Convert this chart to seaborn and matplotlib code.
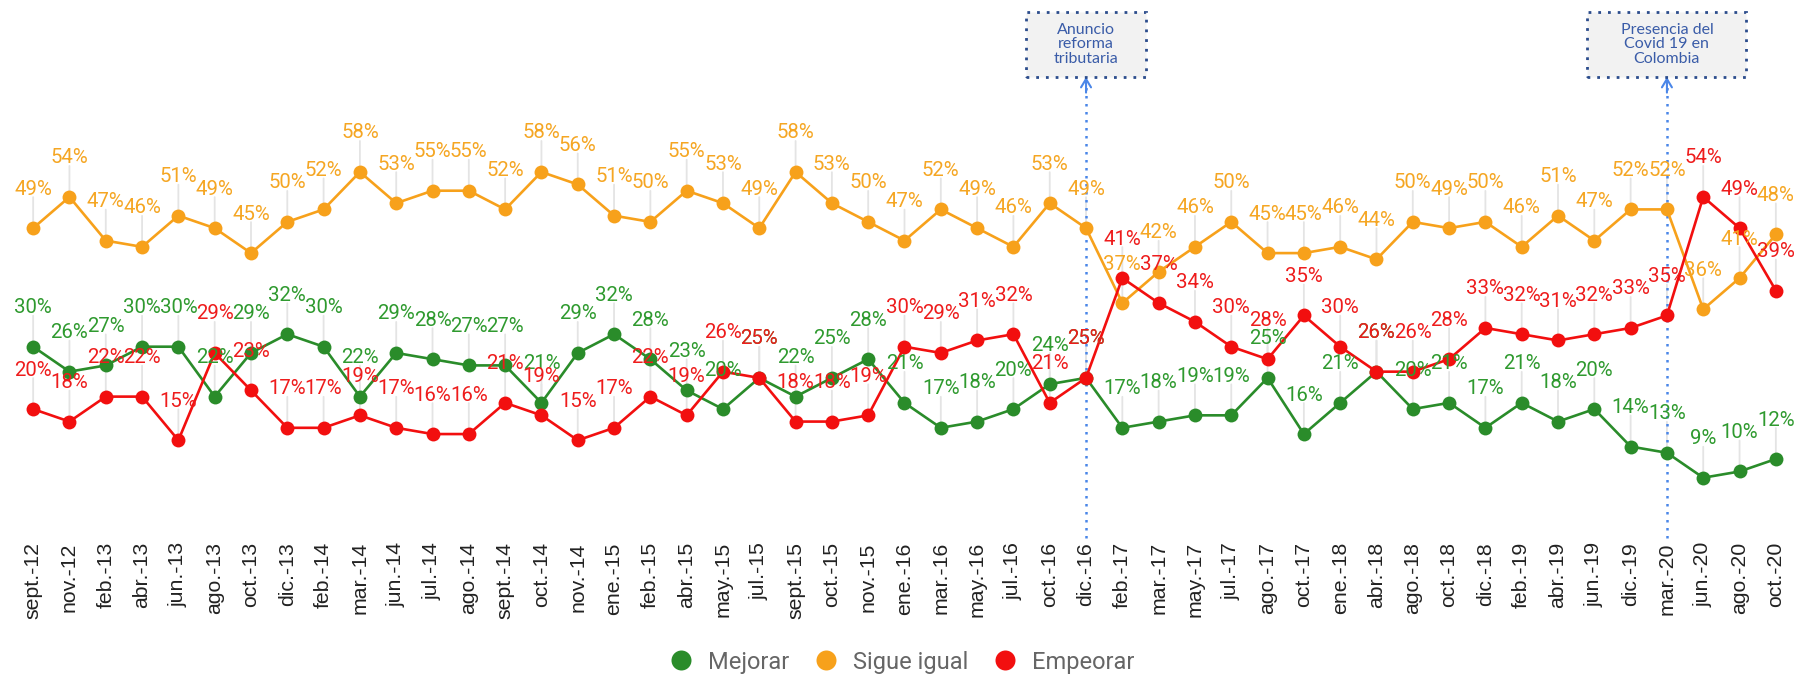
import matplotlib
matplotlib.use("Agg")
import matplotlib.pyplot as plt
import seaborn as sns
import pandas as pd
from matplotlib.lines import Line2D
from matplotlib.patches import Rectangle

# ---------------- data ----------------
periodos = ["sept.-12", "nov.-12", "feb.-13", "abr.-13", "jun.-13", "ago.-13", "oct.-13",
            "dic.-13", "feb.-14", "mar.-14", "jun.-14", "jul.-14", "ago.-14", "sept.-14",
            "oct.-14", "nov.-14", "ene.-15", "feb.-15", "abr.-15", "may.-15", "jul.-15",
            "sept.-15", "oct.-15", "nov.-15", "ene.-16", "mar.-16", "may.-16", "jul.-16",
            "oct.-16", "dic.-16", "feb.-17", "mar.-17", "may.-17", "jul.-17", "ago.-17",
            "oct.-17", "ene.-18", "abr.-18", "ago.-18", "oct.-18", "dic.-18", "feb.-19",
            "abr.-19", "jun.-19", "dic.-19", "mar.-20", "jun.-20", "ago.-20", "oct.-20"]

mejorar = [30, 26, 27, 30, 30, 22, 29, 32, 30, 22, 29, 28, 27, 27, 21, 29, 32, 28, 23, 20,
           25, 22, 25, 28, 21, 17, 18, 20, 24, 25, 17, 18, 19, 19, 25, 16, 21, 26, 20, 21,
           17, 21, 18, 20, 14, 13, 9, 10, 12]

sigue_igual = [49, 54, 47, 46, 51, 49, 45, 50, 52, 58, 53, 55, 55, 52, 58, 56, 51, 50, 55, 53,
               49, 58, 53, 50, 47, 52, 49, 46, 53, 49, 37, 42, 46, 50, 45, 45, 46, 44, 50, 49,
               50, 46, 51, 47, 52, 52, 36, 41, 48]

empeorar = [20, 18, 22, 22, 15, 29, 23, 17, 17, 19, 17, 16, 16, 21, 19, 15, 17, 22, 19, 26,
            25, 18, 18, 19, 30, 29, 31, 32, 21, 25, 41, 37, 34, 30, 28, 35, 30, 26, 26, 28,
            33, 32, 31, 32, 33, 35, 54, 49, 39]

series_nombres = ["Mejorar", "Sigue igual", "Empeorar"]

eventos = ["dic.-16", "mar.-20"]
eventos_texto = ["Anuncio\nreforma\ntributaria", "Presencia del\nCovid 19 en\nColombia"]

# ---------------- style ----------------
COLORS = {"Mejorar": "#2a8c2a", "Sigue igual": "#f7a11b", "Empeorar": "#f20f0f"}
LABEL_COLORS = {"Mejorar": "#2f9a2f", "Sigue igual": "#f5a623", "Empeorar": "#ee1c1c"}

sns.set_theme(style="white")
plt.rcParams["font.family"] = ["Roboto", "DejaVu Sans"]

W, H = 1797, 675
fig = plt.figure(figsize=(W / 100, H / 100), dpi=100)
ax_bottom_px = 538
ax = fig.add_axes([15 / W, 1 - ax_bottom_px / H, 1779 / W, ax_bottom_px / H])

rows = []
for name, vals in zip(series_nombres, [mejorar, sigue_igual, empeorar]):
    for i, (p, v) in enumerate(zip(periodos, vals)):
        rows.append({"idx": i, "periodo": p, "serie": name, "valor": v})
df = pd.DataFrame(rows)

sns.lineplot(data=df, x="idx", y="valor", hue="serie", hue_order=series_nombres,
             palette=COLORS, marker="o", markersize=10, markeredgewidth=0,
             linewidth=1.9, legend=False, sort=False, ax=ax, zorder=3)

yhi = 85.56
ylo = yhi - ax_bottom_px / 6.24
ax.set_xlim(-0.5, len(periodos) - 0.5)
ax.set_ylim(ylo, yhi)

# value labels with light leader lines
for name, vals in zip(series_nombres, [mejorar, sigue_igual, empeorar]):
    for i, v in enumerate(vals):
        ax.annotate("", xy=(i, v), xytext=(0, 31), textcoords="offset pixels",
                    arrowprops=dict(arrowstyle="-", color="#e4e4e4", lw=1.3,
                                    shrinkA=0, shrinkB=0), zorder=1)
        ax.annotate(f"{v}%", xy=(i, v), xytext=(0, 39), textcoords="offset pixels",
                    ha="center", va="center", fontsize=14.7,
                    color=LABEL_COLORS[name], zorder=6)

# event markers
box_top, box_bottom = 83.64, 73.22
box_widths = [3.28, 4.38]
for ev, txt, bw in zip(eventos, eventos_texto, box_widths):
    x = periodos.index(ev)
    ax.plot([x, x], [ylo, box_bottom - 1.2], linestyle=(0, (1, 2.2)), color="#4a86e8",
            lw=1.8, zorder=2, clip_on=False)
    ax.annotate("", xy=(x, box_bottom), xytext=(x, box_bottom - 2.5),
                arrowprops=dict(arrowstyle="->,head_length=0.5,head_width=0.3",
                                color="#4a86e8", lw=1.5, shrinkA=0, shrinkB=0), zorder=2)
    rect = Rectangle((x - bw / 2, box_bottom), bw, box_top - box_bottom,
                     facecolor="#f2f2f2", edgecolor="#2b4c8c", linestyle=(0, (1, 2.5)),
                     lw=2, zorder=7, clip_on=False)
    ax.add_patch(rect)
    ax.text(x, (box_top + box_bottom) / 2, txt, ha="center", va="center",
            fontsize=11.5, color="#3a5ca8", family=["Lato", "DejaVu Sans"],
            linespacing=1.05, zorder=8)

ax.set_xticks(range(len(periodos)))
ax.set_xticklabels(periodos, rotation=90, fontsize=15.3, color="#222222",
                   family=["Liberation Sans", "DejaVu Sans"])
ax.tick_params(axis="x", length=0, pad=3)
ax.set_yticks([])
ax.set_xlabel("")
ax.set_ylabel("")
for s in ax.spines.values():
    s.set_visible(False)

handles = [Line2D([], [], marker="o", linestyle="", markersize=14.4, color=COLORS[n],
                  markeredgewidth=0) for n in series_nombres]
leg = fig.legend(handles, series_nombres, loc="center", bbox_to_anchor=(0.502, 0.019),
                 ncol=3, frameon=False, fontsize=17, handlelength=1.0,
                 handletextpad=0.65, columnspacing=1.05, borderpad=0.1)
for t in leg.get_texts():
    t.set_color("#666666")

fig.savefig("out.png", dpi=100)
